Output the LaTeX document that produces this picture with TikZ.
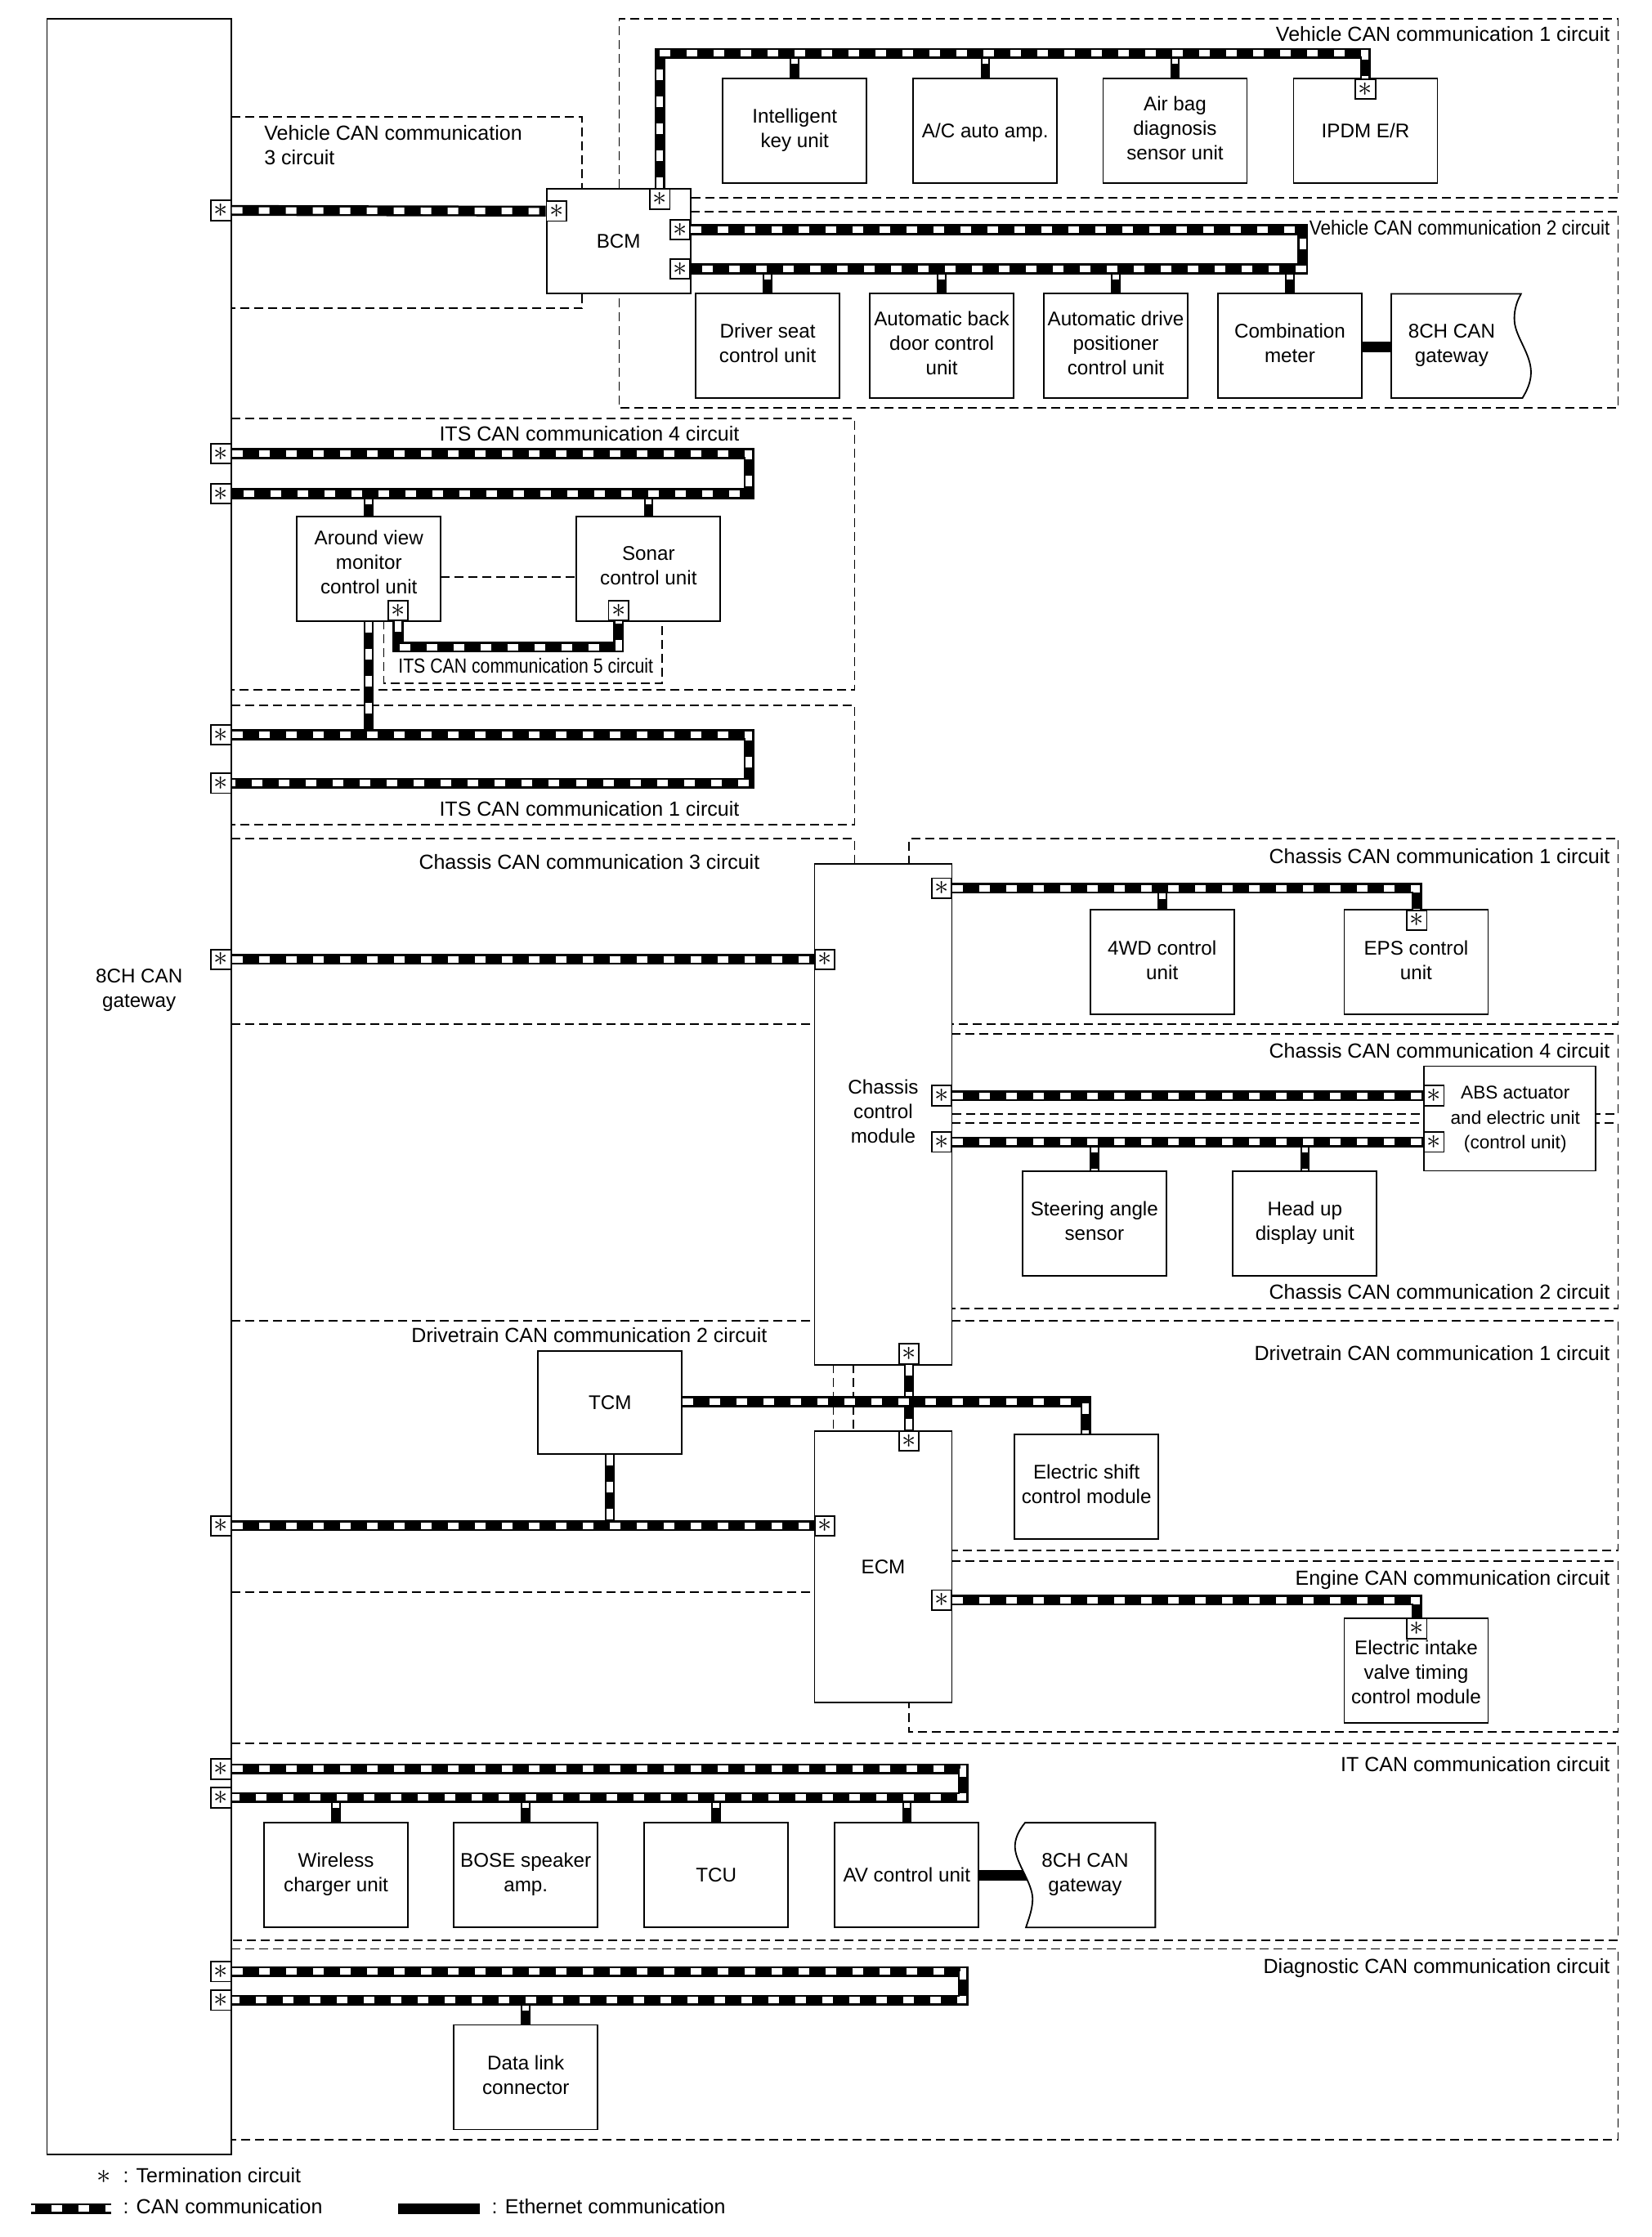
\documentclass[tikz,border=0pt]{standalone}
\usepackage{fontspec}
\setmainfont{Liberation Sans}
\tikzset{
  x=0.87275pt,y=-0.87275pt,
  txt/.style={font=\fontsize{12.5}{15}\selectfont,inner sep=0pt,align=center,
    execute at begin node={\rule{0pt}{10.5pt}},execute at end node={\rule[-1.8pt]{0pt}{0pt}}},
  boxtxt/.style={font=\fontsize{12.1}{15}\selectfont,inner sep=0pt,align=center,
    execute at begin node={\rule{0pt}{11.9pt}},execute at end node={\rule[-3.1pt]{0pt}{0pt}}},
  lower/.style={execute at begin node={\rule{0pt}{13.6pt}}},
  boxn/.style={boxtxt,draw=black,fill=white,line width=0.9pt,minimum width=88pt,minimum height=64pt},
  shapeline/.style={draw=black,fill=white,line width=0.9pt},
  term/.style={draw=black,fill=white,line width=0.9pt,minimum width=12.2pt,minimum height=12.2pt,inner sep=0pt,font=\fontsize{16}{16}\selectfont},
  dashb/.style={draw=black,line width=0.9pt,dash pattern=on 5.5pt off 3pt},
  canbus/.style={preaction={draw=black,line width=6.6pt},draw=white,line width=4pt,dash pattern=on 6.5pt off 10pt},
  canbr/.style={preaction={draw=black,line width=5.8pt},draw=white,line width=3.8pt,dash pattern=on 6.5pt off 10pt},
  ether/.style={draw=black,line width=6.4pt},
  lab/.style={txt,anchor=east},
}
\newcommand{\tm}{$\ast$}
\begin{document}
\begin{tikzpicture}
\useasboundingbox (0,0) rectangle (1157.3,1568);
% dashed circuit outlines
\draw[dashb] (434,132)--(434,13)--(1134,13)--(1134,138.5)--(484,138.5);
\draw[dashb] (484,148.5)--(1134,148.5)--(1134,286)--(434,286)--(434,206);
\draw[dashb] (162,82)--(408,82)--(408,132);
\draw[dashb] (408,206)--(408,216)--(162,216);
\draw[dashb] (162,293.5)--(599,293.5)--(599,483.7)--(162,483.7);
\draw[dashb] (162,494.5)--(599,494.5)--(599,578)--(162,578);
\draw[dashb] (269,435)--(269,478.8)--(464,478.8)--(464,435);
\draw[dashb] (309,404.5)--(404,404.5);
\draw[dashb] (162,588)--(599,588)--(599,606);
\draw[dashb] (162,718)--(571,718);
\draw[dashb] (637,606)--(637,588)--(1134,588)--(1134,718)--(667,718);
\draw[dashb] (667,724.7)--(1134,724.7)--(1134,781)--(667,781);
\draw[dashb] (667,787)--(1134,787)--(1134,917)--(667,917);
\draw[dashb] (162,925.7)--(571,925.7);
\draw[dashb] (162,1116)--(571,1116);
\draw[dashb] (667,925.7)--(1134,925.7)--(1134,1086.7)--(667,1086.7);
\draw[dashb] (584,956)--(584,1003);
\draw[dashb] (598,956)--(598,1003);
\draw[dashb] (667,1094)--(1134,1094)--(1134,1214)--(637,1214)--(637,1193);
\draw[dashb] (162,1222)--(1134,1222)--(1134,1360)--(162,1360);
\draw[dashb] (162,1366)--(1134,1366)--(1134,1500)--(162,1500);
% boxes
\node[boxn,minimum width=112.6pt,minimum height=1306.5pt] (gw) at (97.5,761.5) {};
\node[boxtxt] (gwt) at (97.5,694.5) {8CH CAN\\gateway};
\node[boxn] (bcm) at (433.5,169) {BCM};
\node[boxn,lower] (ikey) at (557,91.5) {Intelligent\\key unit};
\node[boxn] (ac) at (690.5,91.5) {A/C auto amp.};
\node[boxn,lower] (airbag) at (823.5,91.5) {Air bag\\diagnosis\\sensor unit};
\node[boxn] (ipdm) at (957,91.5) {IPDM E/R};
\node[boxn] (dseat) at (538,242.5) {Driver seat\\control unit};
\node[boxn] (aback) at (660,242.5) {Automatic back\\door control\\unit};
\node[boxn] (adrive) at (782,242.5) {Automatic drive\\positioner\\control unit};
\node[boxn] (combi) at (904,242.5) {Combination\\meter};
\node[boxn,label={[boxtxt,yshift=2.4pt]center:Around view\\monitor\\control unit}] (avm) at (258.5,398.5) {};
\node[boxn] (sonar) at (454.5,398.5) {Sonar\\control unit};
\node[boxn,minimum width=84pt,minimum height=306.5pt] (chassis) at (619,781) {Chassis\\control\\module};
\node[boxn] (fwd) at (814.5,674.5) {4WD control\\unit};
\node[boxn] (eps) at (992.5,674.5) {EPS control\\unit};
\node[boxn,minimum width=105pt] (abs) at (1058,784) {};
\node[boxtxt,font=\fontsize{11.3}{15.2}\selectfont] (abst) at (1062,785) {ABS actuator\\and electric unit\\(control unit)};
\node[boxn] (steer) at (767,857.5) {Steering angle\\sensor};
\node[boxn] (hud) at (914.5,857.5) {Head up\\display unit};
\node[boxn,minimum height=63pt] (tcm) at (427.5,983) {TCM};
\node[boxn,minimum width=84pt,minimum height=166pt] (ecm) at (619,1098) {ECM};
\node[boxn] (eshift) at (761.5,1042) {Electric shift\\control module};
\node[boxn,label={[boxtxt,yshift=-2.4pt]center:Electric intake\\valve timing\\control module}] (intake) at (992.5,1171) {};
\node[boxn] (wcharge) at (235.5,1314) {Wireless\\charger unit};
\node[boxn] (bose) at (368.5,1314) {BOSE speaker\\amp.};
\node[boxn] (tcu) at (502,1314) {TCU};
\node[boxn] (av) at (635.5,1314) {AV control unit};
\node[boxn] (dlc) at (368.5,1456) {Data link\\connector};
% ethernet links under the gateway outlines
\coordinate (etA) at (975,243);
\coordinate (etB) at (720,1314.5);
\draw[ether] (combi.east |- etA) -- (etA);
\draw[ether] (av.east |- etB) -- (etB);
% gateway-shaped stubs
\draw[shapeline] (975,206)--(1066,206) .. controls (1062,213) and (1061,220) .. (1061.4,225) .. controls (1062,236) and (1073,248) .. (1073,261) .. controls (1073,268) and (1070,274) .. (1067,279) --(975,279)--cycle;
\node[boxtxt] (gwA) at (1017.4,242.5) {8CH CAN\\gateway};
\draw[shapeline] (809.7,1277.6)--(718.4,1277.6) .. controls (714,1283) and (711,1289) .. (711.4,1295.3) .. controls (712,1306) and (723.7,1320) .. (723.7,1331) .. controls (723.7,1338) and (721,1345) .. (719,1351) --(809.7,1351)--cycle;
\node[boxtxt] (gwB) at (760.5,1314) {8CH CAN\\gateway};
% terminators
\node[term] (tgwbcm) at (155,147.5) {\tm};
\node[term] (tbcml) at (390,148) {\tm};
\node[term] (tbcmt) at (462.5,139.5) {\tm};
\node[term] (tbcmr1) at (476.7,161) {\tm};
\node[term] (tbcmr2) at (476.7,188.5) {\tm};
\node[term] (tipdm) at (957,62.5) {\tm};
\node[term] (tgw41) at (155,318) {\tm};
\node[term] (tgw42) at (155,346) {\tm};
\node[term] (tavm) at (279,428) {\tm};
\node[term] (tson) at (433.5,428) {\tm};
\node[term] (tgw11) at (155,515) {\tm};
\node[term] (tgw12) at (155,549) {\tm};
\node[term] (tgwch) at (155,672.5) {\tm};
\node[term] (tchl) at (578,672.5) {\tm};
\node[term] (tchr1) at (660,622.5) {\tm};
\node[term] (teps) at (993,645) {\tm};
\node[term] (tchr4) at (660,768) {\tm};
\node[term] (tchr2) at (660,800.5) {\tm};
\node[term] (tabs4) at (1005,768) {\tm};
\node[term] (tabs2) at (1005,800.5) {\tm};
\node[term] (tchb) at (637,949) {\tm};
\node[term] (tecmt) at (637,1010) {\tm};
\node[term] (tgwec) at (155,1069.5) {\tm};
\node[term] (tecml) at (578,1069.5) {\tm};
\node[term] (tecmr) at (660,1121.5) {\tm};
\node[term] (tint) at (993,1141.5) {\tm};
\node[term] (tgwit1) at (155,1240) {\tm};
\node[term] (tgwit2) at (155,1260) {\tm};
\node[term] (tgwd1) at (155,1382) {\tm};
\node[term] (tgwd2) at (155,1402) {\tm};
% labels
\node[lab] (l1) at (1128.5,24) {Vehicle CAN communication 1 circuit};
\node[lab] (l2) at (1128.5,160) {\scalebox{0.9}[1]{Vehicle CAN communication 2 circuit}};
\node[txt,align=left,anchor=west] (l3) at (185,102.5) {Vehicle CAN communication\\3 circuit};
\node[txt] (l4) at (413,304) {ITS CAN communication 4 circuit};
\node[txt] (l5) at (368.5,467) {\scalebox{0.85}[1]{ITS CAN communication 5 circuit}};
\node[txt] (l6) at (413,567) {ITS CAN communication 1 circuit};
\node[txt] (l7) at (413,604.5) {Chassis CAN communication 3 circuit};
\node[lab] (l8) at (1128.5,600.5) {Chassis CAN communication 1 circuit};
\node[lab] (l9) at (1128.5,736.5) {Chassis CAN communication 4 circuit};
\node[lab] (l10) at (1128.5,905.5) {Chassis CAN communication 2 circuit};
\node[txt] (l11) at (413,936) {Drivetrain CAN communication 2 circuit};
\node[lab] (l12) at (1128.5,948.5) {Drivetrain CAN communication 1 circuit};
\node[lab] (l13) at (1128.5,1106.5) {Engine CAN communication circuit};
\node[lab] (l14) at (1128.5,1236.5) {IT CAN communication circuit};
\node[lab] (l15) at (1128.5,1378.5) {Diagnostic CAN communication circuit};
% branches
\coordinate (vc1) at (462.5,37.5);
\coordinate (vc2) at (913,161);
\coordinate (vc2b) at (913,188.5);
\coordinate (ic1) at (525,318);
\coordinate (ic1b) at (525,346);
\coordinate (ic5) at (279,453.5);
\coordinate (ic5b) at (433.5,453.5);
\coordinate (ic2) at (525,515);
\coordinate (ic2b) at (525,549);
\coordinate (cc1) at (993,622.5);
\coordinate (dt) at (761,982.5);
\coordinate (ec) at (993,1121.5);
\coordinate (it) at (675,1240);
\coordinate (itb) at (675,1260);
\coordinate (dg) at (675,1382);
\coordinate (dgb) at (675,1402);
\foreach \b in {ikey,ac,airbag}{\draw[canbr] (\b.north |- vc1) -- (\b.north);}
\foreach \b in {dseat,aback,adrive,combi}{\draw[canbr] (\b.north |- vc2b) -- (\b.north);}
\foreach \b in {avm,sonar}{\draw[canbr] (\b.north |- ic1b) -- (\b.north);}
\draw[canbr] (avm.south) -- (avm.south |- ic2);
\draw[canbr] (fwd.north |- cc1) -- (fwd.north);
\foreach \b in {steer,hud}{\draw[canbr] (\b.north |- tchr2) -- (\b.north);}
\draw[canbr] (tcm.south) -- (tcm.south |- tecml);
\foreach \b in {wcharge,bose,tcu,av}{\draw[canbr] (\b.north |- itb) -- (\b.north);}
\draw[canbr] (dlc.north |- dgb) -- (dlc.north);
\draw[canbr] (tchb.south) -- (tecmt.north);
% main buses
\draw[canbus] (tgwbcm.east) -- (tbcml.west);
\draw[canbus] (tbcmt.north) -- (vc1) -| (tipdm.north);
\draw[canbus] (tbcmr1.east) -- (vc2) -- (vc2b) -- (tbcmr2.east);
\draw[canbus] (tgw41.east) -- (ic1) -- (ic1b) -- (tgw42.east);
\draw[canbus] (tavm.south) -- (ic5) -- (ic5b) -- (tson.south);
\draw[canbus] (tgw11.east) -- (ic2) -- (ic2b) -- (tgw12.east);
\draw[canbus] (tgwch.east) -- (tchl.west);
\draw[canbus] (tchr1.east) -- (cc1) -- (teps.north);
\draw[canbus] (tchr4.east) -- (tabs4.west);
\draw[canbus] (tchr2.east) -- (tabs2.west);
\draw[canbus] (tcm.east |- dt) -- (dt) -- (eshift.north -| dt);
\draw[canbus] (tgwec.east) -- (tecml.west);
\draw[canbus] (tecmr.east) -- (ec) -- (tint.north);
\draw[canbus] (tgwit1.east) -- (it) -- (itb) -- (tgwit2.east);
\draw[canbus] (tgwd1.east) -- (dg) -- (dgb) -- (tgwd2.east);
% legend
\node[term,draw=none,fill=none] (lga) at (73,1526) {\tm};
\node[txt,anchor=west] (lg1) at (86,1525) {: Termination circuit};
\coordinate (lc1) at (21.5,1548);
\coordinate (lc2) at (78,1548);
\draw[canbus,dash phase=4pt] (lc1) -- (lc2);
\node[txt,anchor=west] (lg2) at (86,1546.5) {: CAN communication};
\coordinate (le1) at (279,1548);
\coordinate (le2) at (336,1548);
\draw[ether] (le1) -- (le2);
\node[txt,anchor=west] (lg3) at (344.5,1546.5) {: Ethernet communication};
\end{tikzpicture}
\end{document}
